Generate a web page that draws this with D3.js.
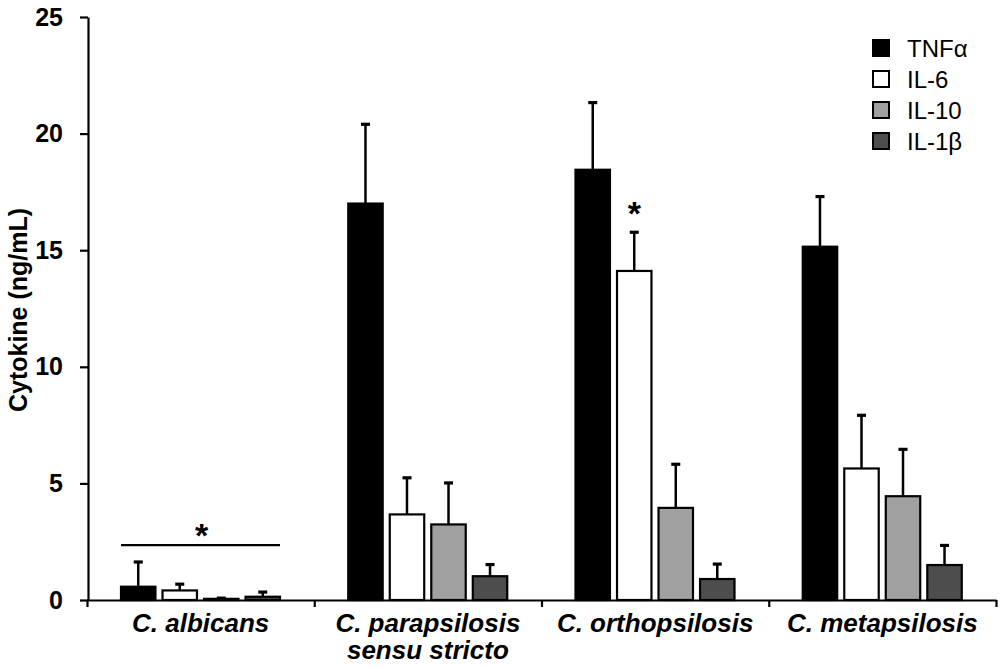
<!DOCTYPE html>
<html>
<head>
<meta charset="utf-8">
<script src="https://cdn.jsdelivr.net/npm/d3@7"></script>
<style>
  body { margin: 0; background: #fff; }
  svg { display: block; font-family: "Liberation Sans", Arial, sans-serif; }
</style>
</head>
<body>
<svg id="chart" width="1000" height="668"></svg>
<script>
// data
const categories = ['C. albicans', 'C. parapsilosis sensu stricto', 'C. orthopsilosis', 'C. metapsilosis']
const categoryLines = [['C. albicans'], ['C. parapsilosis', 'sensu stricto'], ['C. orthopsilosis'], ['C. metapsilosis']]
const series = ['TNFα', 'IL-6', 'IL-10', 'IL-1β']
const tnfMean = [0.57, 17.0, 18.45, 15.15]
const tnfSd = [1.06, 3.4, 2.88, 2.15]
const il6Mean = [0.41, 3.67, 14.11, 5.64]
const il6Sd = [0.27, 1.57, 1.66, 2.28]
const il10Mean = [0.05, 3.24, 3.95, 4.45]
const il10Sd = [0.03, 1.78, 1.87, 2.01]
const il1bMean = [0.14, 1.02, 0.9, 1.5]
const il1bSd = [0.2, 0.5, 0.64, 0.84]
const yTicks = [0, 5, 10, 15, 20, 25]
const fills = ['#000000', '#ffffff', '#a0a0a0', '#4d4d4d']

const means = [tnfMean, il6Mean, il10Mean, il1bMean]
const sds = [tnfSd, il6Sd, il10Sd, il1bSd]

const svg = d3.select('#chart')

const x0 = d3.scaleBand().domain(categories).range([87, 996])
const x1 = d3.scaleBand().domain(series).range([34, 193]).paddingInner(0.17)
const xb = d3.scaleLinear().domain([0, categories.length]).range([87, 996])
const y = d3.scaleLinear().domain([0, 25]).range([600, 17])

// flatten into bar records
const bars = []
categories.forEach(function (c, ci) {
  series.forEach(function (s, si) {
    bars.push({ cat: c, ser: s, si: si, mean: means[si][ci], sd: sds[si][ci] })
  })
})

// axes
const yAxis = svg.append('g')
  .attr('transform', 'translate(88,0)')
  .call(d3.axisLeft(y).tickValues(yTicks).tickSize(8).tickSizeOuter(0).tickPadding(17))
yAxis.selectAll('path, line').attr('stroke', '#000').attr('stroke-width', 2.2)
yAxis.selectAll('text')
  .attr('font-size', 25).attr('font-weight', 'bold').attr('fill', '#000')
  .attr('font-family', '"Liberation Sans", Arial, sans-serif')

const xAxis = svg.append('g')
  .attr('transform', 'translate(0,600)')
  .call(d3.axisBottom(xb).ticks(categories.length).tickSize(7).tickSizeOuter(0).tickFormat(''))
xAxis.selectAll('path, line').attr('stroke', '#000').attr('stroke-width', 2.2)

// bars
const g = svg.append('g')
g.selectAll('rect.bar')
  .data(bars)
  .enter().append('rect')
  .attr('class', 'bar')
  .attr('x', function (d) { return x0(d.cat) + x1(d.ser) })
  .attr('y', function (d) { return y(d.mean) })
  .attr('width', x1.bandwidth())
  .attr('height', function (d) { return y(0) - y(d.mean) })
  .attr('fill', function (d) { return fills[d.si] })
  .attr('stroke', '#000')
  .attr('stroke-width', 2.2)

// error bars (upper only)
const eb = g.selectAll('g.err')
  .data(bars)
  .enter().append('g')
  .attr('class', 'err')
  .attr('transform', function (d) { return 'translate(' + (x0(d.cat) + x1(d.ser) + x1.bandwidth() / 2) + ',0)' })
eb.append('line')
  .attr('y1', function (d) { return y(d.mean) })
  .attr('y2', function (d) { return y(d.mean + d.sd) })
  .attr('stroke', '#000').attr('stroke-width', 2.5)
eb.append('line')
  .attr('x1', -4.5).attr('x2', 4.5)
  .attr('y1', function (d) { return y(d.mean + d.sd) })
  .attr('y2', function (d) { return y(d.mean + d.sd) })
  .attr('stroke', '#000').attr('stroke-width', 3.2)

// significance: bracket over C. albicans, star over IL-6 in C. orthopsilosis
const lineLevel = 2.35
svg.append('line')
  .attr('x1', x0(categories[0]) + x1(series[0]))
  .attr('x2', x0(categories[0]) + x1(series[3]) + x1.bandwidth())
  .attr('y1', y(lineLevel)).attr('y2', y(lineLevel))
  .attr('stroke', '#000').attr('stroke-width', 2.2)
svg.append('text')
  .attr('x', x0(categories[0]) + x0.bandwidth() / 2 + 1)
  .attr('y', y(lineLevel) + 2)
  .attr('text-anchor', 'middle')
  .attr('font-size', 34)
  .attr('font-weight', 'bold')
  .text('*')
svg.append('text')
  .attr('x', x0(categories[2]) + x1(series[1]) + x1.bandwidth() / 2)
  .attr('y', y(il6Mean[2] + il6Sd[2]) - 7)
  .attr('text-anchor', 'middle')
  .attr('font-size', 34)
  .attr('font-weight', 'bold')
  .text('*')

// category labels
const lab = svg.selectAll('text.cat')
  .data(categories)
  .enter().append('text')
  .attr('class', 'cat')
  .attr('x', function (d) { return x0(d) + x0.bandwidth() / 2 })
  .attr('y', 632)
  .attr('text-anchor', 'middle')
  .attr('font-size', 26)
  .attr('font-weight', 'bold')
  .attr('font-style', 'italic')
lab.selectAll('tspan')
  .data(function (d, i) { return categoryLines[i] })
  .enter().append('tspan')
  .attr('x', function () { return d3.select(this.parentNode).attr('x') })
  .attr('dy', function (d, i) { return i === 0 ? 0 : 27 })
  .text(function (d) { return d })

// y axis title
svg.append('text')
  .attr('transform', 'translate(27,310) rotate(-90)')
  .attr('text-anchor', 'middle')
  .attr('font-size', 25)
  .attr('font-weight', 'bold')
  .text('Cytokine (ng/mL)')

// legend
const leg = svg.append('g').attr('transform', 'translate(873,48)')
const item = leg.selectAll('g')
  .data(series)
  .enter().append('g')
  .attr('transform', function (d, i) { return 'translate(0,' + i * 31 + ')' })
item.append('rect')
  .attr('x', 0).attr('y', -8)
  .attr('width', 16).attr('height', 16)
  .attr('fill', function (d, i) { return fills[i] })
  .attr('stroke', '#000').attr('stroke-width', 2)
item.append('text')
  .attr('x', 34).attr('y', 0).attr('dy', '0.36em')
  .attr('font-size', 24)
  .text(function (d) { return d })
</script>
</body>
</html>
